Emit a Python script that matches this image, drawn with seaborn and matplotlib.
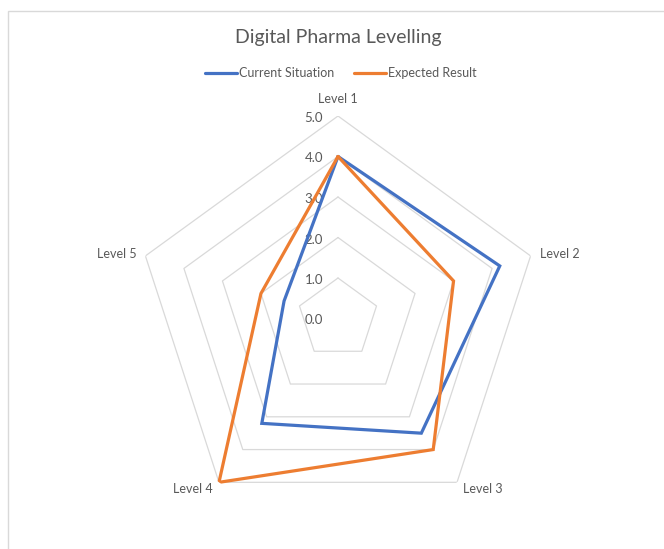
import numpy as np
import matplotlib
matplotlib.use("Agg")
import matplotlib.pyplot as plt
import seaborn as sns
from matplotlib.patches import Rectangle
from matplotlib.lines import Line2D

categories = ["Level 1", "Level 2", "Level 3", "Level 4", "Level 5"]
current = [4.0, 4.2, 3.5, 3.2, 1.4]
expected = [4.0, 3.0, 4.0, 5.0, 2.0]
rings = [1.0, 2.0, 3.0, 4.0, 5.0]
tick_labels = ["0.0", "1.0", "2.0", "3.0", "4.0", "5.0"]
series_names = ["Current Situation", "Expected Result"]

sns.set_theme(style="white")
plt.rcParams["font.family"] = ["Lato", "DejaVu Sans"]

TXT = "#595959"
GRID = "#D9D9D9"
BLUE = "#4472C4"
ORANGE = "#ED7D31"

fig = plt.figure(figsize=(6.64, 5.49), dpi=100)
ax = fig.add_axes([135.5 / 664, 28 / 549, 405 / 664, 405 / 549], projection="polar")
ax.set_theta_offset(np.pi / 2)
ax.set_theta_direction(-1)
ax.set_ylim(0, 5)
ax.grid(False)
ax.spines["polar"].set_visible(False)
ax.set_xticks([])
ax.set_yticks([])
ax.patch.set_alpha(0)

n = len(categories)
angles = np.linspace(0, 2 * np.pi, n, endpoint=False)
closed = np.append(angles, angles[0])

for r in rings:
    ax.plot(closed, [r] * (n + 1), color=GRID, lw=0.9, zorder=1)

for i, lab in enumerate(tick_labels):
    ax.annotate(lab, xy=(0, float(lab)), xytext=(-15, -2), textcoords="offset pixels",
                ha="right", va="center", fontsize=9.5, color=TXT, zorder=3)

def close(v):
    return list(v) + [v[0]]

ax.plot(closed, close(current), color=BLUE, lw=2.3, zorder=4, solid_joinstyle="miter")
ax.plot(closed, close(expected), color=ORANGE, lw=2.3, zorder=5, solid_joinstyle="miter")

offsets = [(0, 17, "center", "center"), (9, 2, "left", "center"), (6, -7, "left", "center"),
           (-6, -7, "right", "center"), (-9, 2, "right", "center")]
for a, lab, (dx, dy, ha, va) in zip(angles, categories, offsets):
    ax.annotate(lab, xy=(a, 5.0), xytext=(dx, dy), textcoords="offset pixels",
                ha=ha, va=va, fontsize=9, color=TXT, annotation_clip=False)

fig.text(338 / 664, 1 - 38 / 549, "Digital Pharma Levelling", ha="center", va="center",
         fontsize=14, color=TXT)

handles = [Line2D([0], [0], color=BLUE, lw=2.3), Line2D([0], [0], color=ORANGE, lw=2.3)]
fig.legend(handles, series_names, loc="center", bbox_to_anchor=(341 / 664, 1 - 73 / 549),
           ncol=2, frameon=False, fontsize=9, labelcolor=TXT, handlelength=2.5,
           handletextpad=0.2, columnspacing=1.6)

fig.patches.append(Rectangle((8 / 664, -0.1), 1.5, (549 - 11) / 549 + 0.1, fill=False,
                             edgecolor=GRID, lw=1, transform=fig.transFigure))

fig.savefig("out.png", dpi=100)
